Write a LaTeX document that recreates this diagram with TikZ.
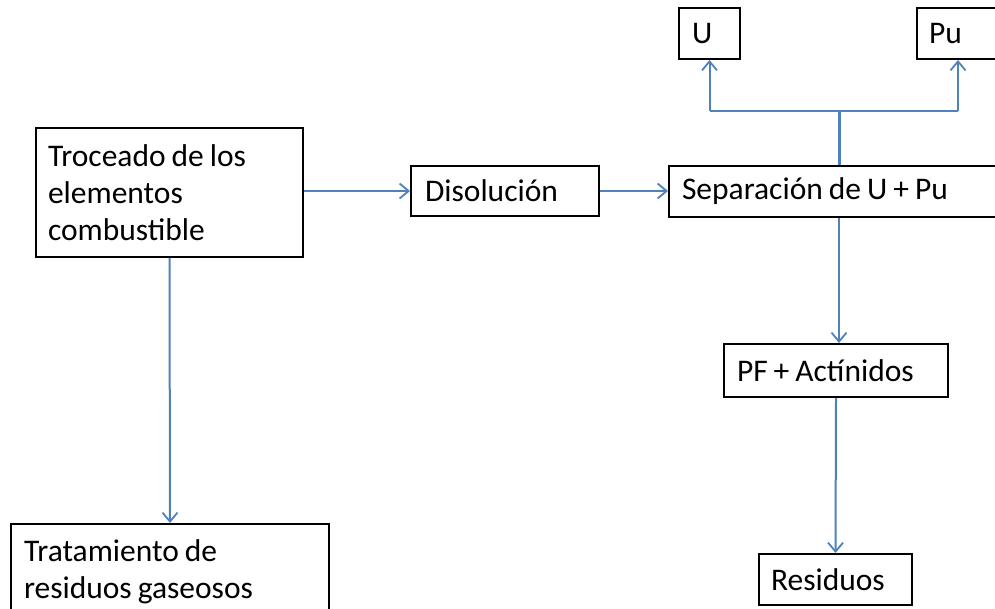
\documentclass[tikz,border=0pt]{standalone}
\usepackage{fontspec}
\setmainfont{Carlito}
\usetikzlibrary{arrows.meta}
\definecolor{lineblue}{RGB}{79,129,189}
\newcommand{\boxfont}{\fontsize{31.5}{37}\selectfont}
\begin{document}
\begin{tikzpicture}[x=1pt,y=-1pt,
  box/.style={draw=black,line width=2pt,anchor=north west,align=left,
    font=\boxfont,inner ysep=0pt,
    execute at begin node={\spaceskip=6pt\relax\xspaceskip=6pt\relax}},
  arr/.style={draw=lineblue,line width=2pt,-{Straight Barb[length=9pt,width=15pt,line width=1.8pt]}},
  ln/.style={draw=lineblue,line width=2pt}]
\path[use as bounding box] (0,0) rectangle (995,609);
\clip (0,0) rectangle (995,609);
\fill[white] (0,0) rectangle (995,609);
\node[box,minimum width=267,minimum height=129,inner xsep=12,text width=243] (troc) at (35,127) {Troceado de los\\elementos\\combustible};
\node[box,minimum width=188,minimum height=50,inner xsep=14,text width=160] (diso) at (410,165) {Disolución};
\node[box,minimum width=340,minimum height=51,inner xsep=13,text width=314] (sep) at (668,165) {Separación de U + Pu};
\node[box,minimum width=61,minimum height=51,inner xsep=13,text width=35] (U) at (678,7) {U};
\node[box,minimum width=82,minimum height=51,inner xsep=12,text width=58] (Pu) at (916,7) {Pu};
\node[box,minimum width=224,minimum height=53,inner xsep=13,text width=198] (pf) at (723,343) {PF + Actínidos};
\node[box,minimum width=153,minimum height=51,inner xsep=12,text width=129] (res) at (758,553) {Residuos};
\node[box,minimum width=318,minimum height=96,inner xsep=13,text width=292] (trat) at (10,523) {Tratamiento de\\residuos gaseosos};
\coordinate (br) at (837,111);
\draw[arr] (troc.east |- diso.west) -- (diso.west);
\draw[arr] (diso.east) -- (sep.west |- diso.east);
\draw[draw=lineblue,line width=3pt] (sep.north) -- (sep.north |- br);
\draw[ln] (U.south |- br) -- (Pu.south |- br);
\draw[arr] (U.south |- br) -- (U.south);
\draw[arr] (Pu.south |- br) -- (Pu.south);
\draw[arr] (sep.south) -- (sep.south |- pf.north);
\draw[arr] (pf.south) -- (res.north);
\draw[arr] (troc.south) -- (trat.north);
\end{tikzpicture}
\end{document}
